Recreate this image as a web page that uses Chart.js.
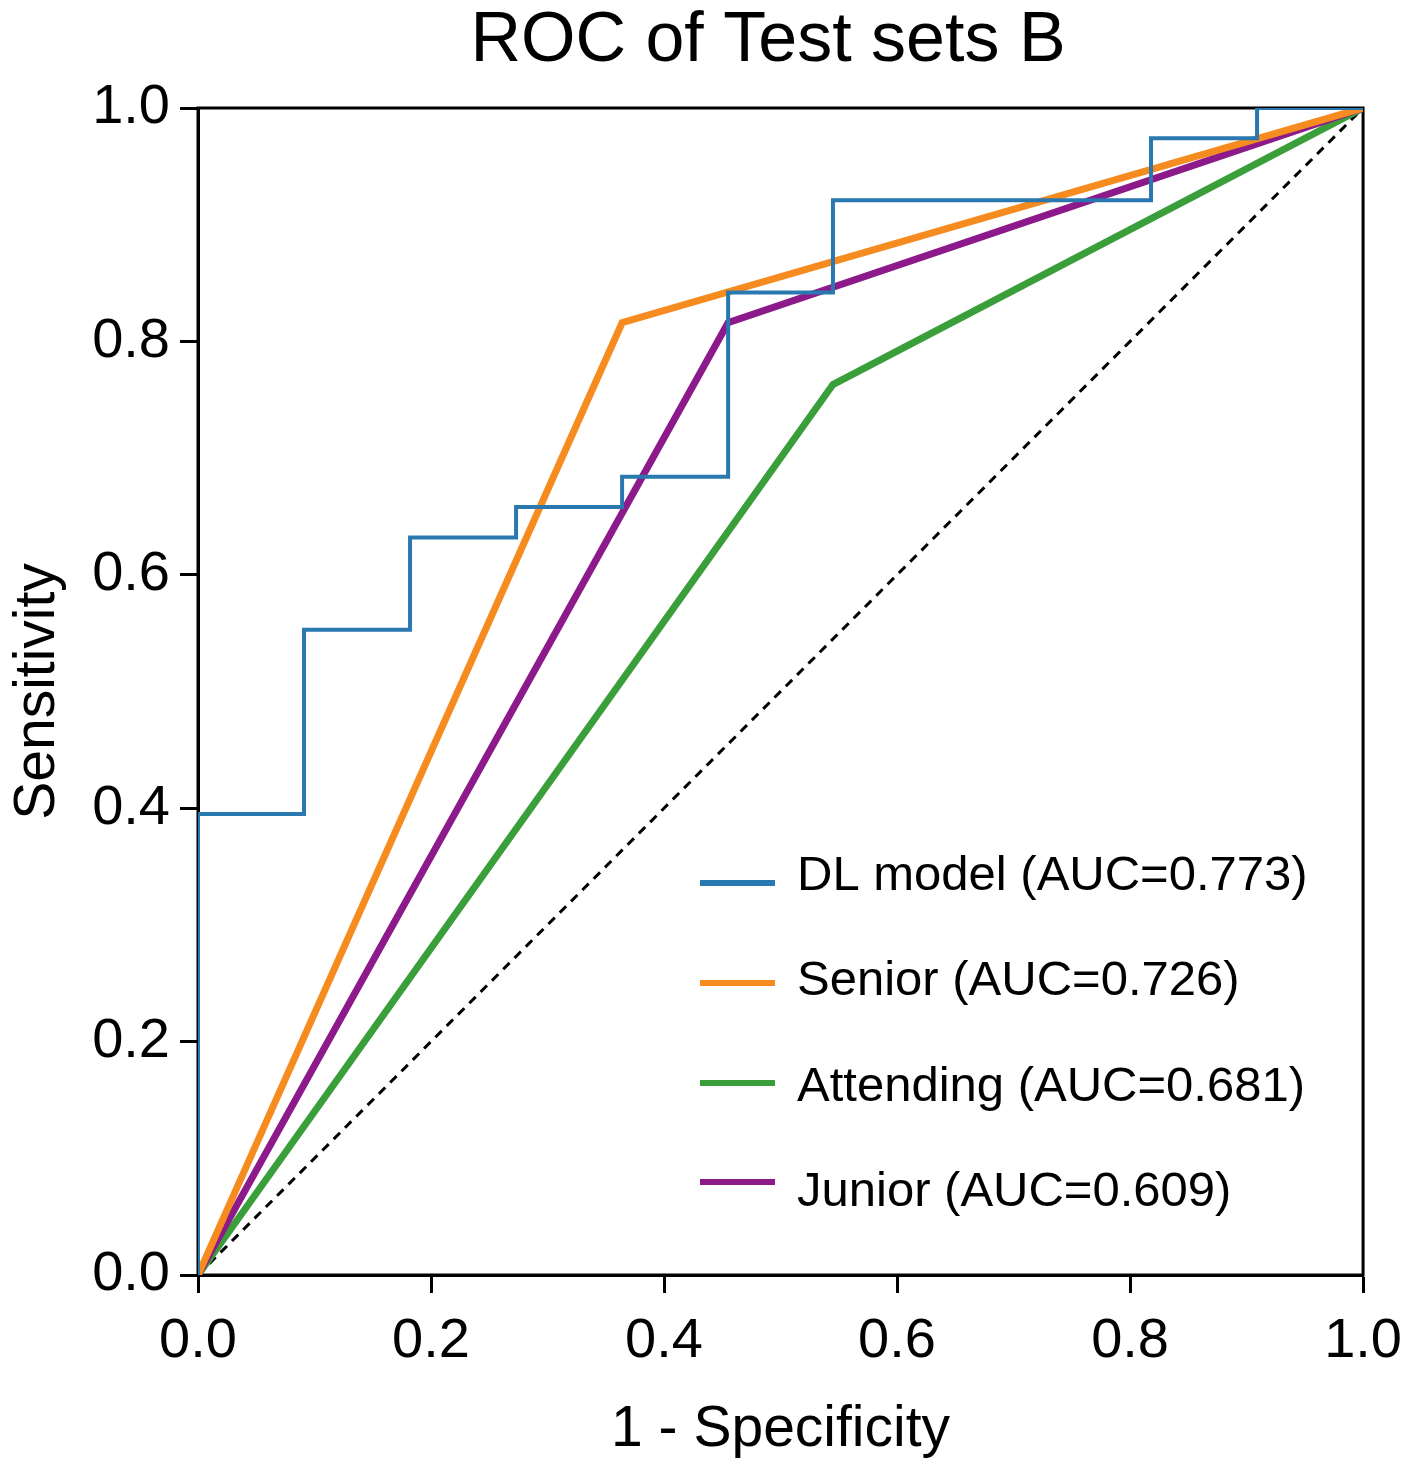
<!DOCTYPE html>
<html>
<head>
<meta charset="utf-8">
<script src="https://cdn.jsdelivr.net/npm/chart.js@4"></script>
<style>
  body { margin: 0; background: #fff; }
  #wrap { width: 1417px; height: 1468px; }
</style>
</head>
<body>
<div id="wrap"><canvas id="roc" width="1417" height="1468"></canvas></div>
<script>
// ROC points
const dlFpr = [0, 0.091, 0.182, 0.273, 0.364, 0.455, 0.545, 0.818, 0.909, 1.0];
const dlTpr = [0, 0.395, 0.553, 0.632, 0.658, 0.684, 0.842, 0.921, 0.974, 1.0];
const seniorFpr = [0, 0.364, 1.0];
const seniorTpr = [0, 0.816, 1.0];
const attendingFpr = [0, 0.545, 1.0];
const attendingTpr = [0, 0.763, 1.0];
const juniorFpr = [0, 0.455, 1.0];
const juniorTpr = [0, 0.816, 1.0];
const chanceLine = [0, 1.0];

const labels = ["DL model (AUC=0.773)", "Senior (AUC=0.726)", "Attending (AUC=0.681)", "Junior (AUC=0.609)"];
const colors = ["#2a78b0", "#f68b1f", "#3a9f3a", "#8c1a8a"];
const tickValues = [0, 0.2, 0.4, 0.6, 0.8, 1.0];

const FONT = "'Liberation Sans', Arial, sans-serif";

const toPoints = (xs, ys) => xs.map((x, i) => ({ x: x, y: ys[i] }));

// box around the plot + legend inside chart area
const frame = {
    id: "frame",
    afterLayout(chart) {
        // title in the original sits a bit right of canvas centre
        const t = chart.titleBlock;
        if (t) t.left = 2 * 768 - t.right;
    },
    beforeDatasetsDraw(chart) {
        const { ctx, chartArea: a } = chart;
        ctx.save();
        ctx.strokeStyle = "#000";
        ctx.lineWidth = 3;
        ctx.strokeRect(a.left, a.top, a.right - a.left, a.bottom - a.top);
        ctx.restore();
    },
    afterDraw(chart) {
        const ctx = chart.ctx;
        const rowsLine = [883, 983, 1083, 1182];
        const rowsText = [876, 981, 1087, 1192];
        ctx.save();
        ctx.font = "49px " + FONT;
        ctx.textBaseline = "middle";
        ctx.fillStyle = "#000";
        labels.forEach((lab, i) => {
            ctx.strokeStyle = colors[i];
            ctx.lineWidth = 6;
            ctx.beginPath();
            ctx.moveTo(700, rowsLine[i]);
            ctx.lineTo(775, rowsLine[i]);
            ctx.stroke();
            ctx.fillText(lab, 797, rowsText[i]);
        });
        ctx.restore();
    }
};

new Chart(document.getElementById("roc"), {
    type: "line",
    data: {
        datasets: [
            { label: labels[0], data: toPoints(dlFpr, dlTpr), borderColor: colors[0], borderWidth: 4, stepped: "after" },
            { label: labels[1], data: toPoints(seniorFpr, seniorTpr), borderColor: colors[1], borderWidth: 7 },
            { label: labels[3], data: toPoints(juniorFpr, juniorTpr), borderColor: colors[3], borderWidth: 7 },
            { label: labels[2], data: toPoints(attendingFpr, attendingTpr), borderColor: colors[2], borderWidth: 7 },
            { label: "chance", data: toPoints(chanceLine, chanceLine), borderColor: "#000", borderWidth: 3, borderDash: [9, 7] }
        ]
    },
    options: {
        responsive: false,
        animation: false,
        elements: { point: { radius: 0 }, line: { tension: 0, borderCapStyle: "butt", borderJoinStyle: "miter" } },
        layout: { padding: { left: 0, right: 52, top: 0, bottom: 0 } },
        plugins: {
            legend: { display: false },
            tooltip: { enabled: false },
            title: {
                display: true,
                text: "ROC of Test sets B",
                color: "#000",
                font: { family: FONT, size: 70, weight: "normal" },
                padding: { top: 0, bottom: 24 }
            }
        },
        scales: {
            x: {
                type: "linear",
                min: 0, max: 1,
                afterBuildTicks: (s) => { s.ticks = tickValues.map(v => ({ value: v })); },
                afterFit: (s) => { s.height = 193; },
                ticks: {
                    color: "#000",
                    padding: 15,
                    maxRotation: 0,
                    font: { family: FONT, size: 56 },
                    callback: (v) => v.toFixed(1)
                },
                grid: { drawOnChartArea: false, drawTicks: true, tickLength: 18, tickWidth: 3, color: "#000" },
                border: { color: "#000", width: 3 },
                title: {
                    display: true,
                    text: "1 - Specificity",
                    color: "#000",
                    font: { family: FONT, size: 57 },
                    padding: { top: 0, bottom: 4 }
                }
            },
            y: {
                type: "linear",
                min: 0, max: 1,
                afterBuildTicks: (s) => { s.ticks = tickValues.map(v => ({ value: v })); },
                afterFit: (s) => { s.width = 198; },
                ticks: {
                    color: "#000",
                    padding: 10,
                    font: { family: FONT, size: 56 },
                    callback: (v) => v.toFixed(1)
                },
                grid: { drawOnChartArea: false, drawTicks: true, tickLength: 18, tickWidth: 3, color: "#000" },
                border: { color: "#000", width: 3 },
                title: {
                    display: true,
                    text: "Sensitivity",
                    color: "#000",
                    font: { family: FONT, size: 57 },
                    padding: { top: 4, bottom: 0 }
                }
            }
        }
    },
    plugins: [frame]
});
</script>
</body>
</html>
